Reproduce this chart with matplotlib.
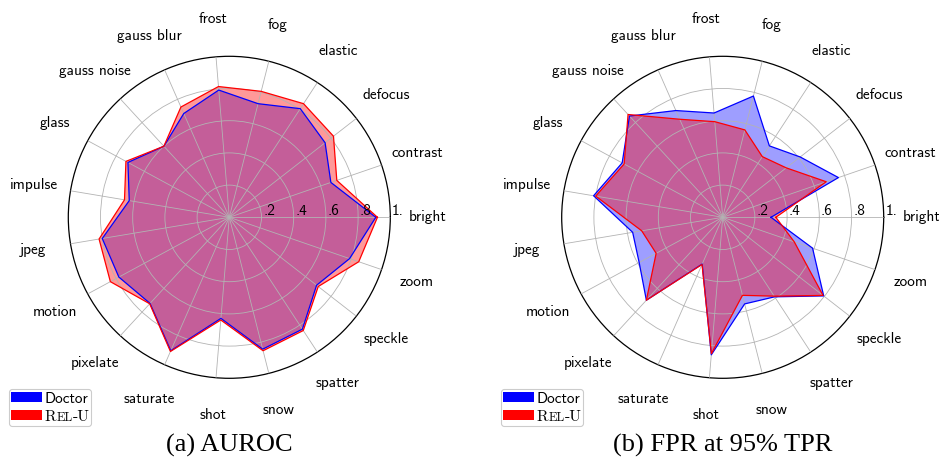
import matplotlib.pyplot as plt
import numpy as np
from matplotlib.patches import Patch
from matplotlib.text import Annotation

categories = ["bright", "contrast", "defocus", "elastic", "fog", "frost",
              "gauss blur", "gauss noise", "glass", "impulse", "jpeg", "motion",
              "pixelate", "saturate", "shot", "snow", "spatter", "speckle", "zoom"]

# (a) AUROC
doctor_auroc = [0.91, 0.667, 0.754, 0.806, 0.728, 0.793, 0.704, 0.60, 0.716, 0.63,
                0.80, 0.78, 0.727, 0.905, 0.63, 0.845, 0.83, 0.687, 0.79]
relu_auroc = [0.92, 0.706, 0.82, 0.843, 0.807, 0.815, 0.748, 0.60, 0.73, 0.66,
              0.82, 0.84, 0.73, 0.91, 0.64, 0.855, 0.84, 0.70, 0.85]

# (b) FPR at 95% TPR
doctor_fpr = [0.30, 0.76, 0.61, 0.53, 0.777, 0.65, 0.724, 0.855, 0.71, 0.813,
              0.567, 0.59, 0.70, 0.317, 0.857, 0.555, 0.59, 0.795, 0.59]
relu_fpr = [0.33, 0.68, 0.50, 0.45, 0.56, 0.596, 0.665, 0.868, 0.696, 0.80,
            0.51, 0.47, 0.70, 0.32, 0.85, 0.50, 0.585, 0.79, 0.47]

r_ticks = [0.2, 0.4, 0.6, 0.8, 1.0]
r_tick_labels = [".2", ".4", ".6", ".8", "1."]
captions = ["(a) AUROC", "(b) FPR at 95% TPR"]

W, H = 939, 469
fig = plt.figure(figsize=(W / 100, H / 100), dpi=100)

SANS = "cmss10"
FS = 11


def radar(ax, doctor, relu):
    n = len(categories)
    theta = np.linspace(0, 2 * np.pi, n, endpoint=False)
    tt = np.append(theta, theta[0])
    d = np.append(doctor, doctor[0])
    r = np.append(relu, relu[0])

    ax.fill(tt, d, color="blue", alpha=0.38, lw=0, zorder=1)
    ax.fill(tt, r, color="red", alpha=0.4, lw=0, zorder=1.1)
    ax.plot(tt, d, color="blue", lw=0.9, zorder=3)
    ax.plot(tt, r, color="red", lw=0.9, zorder=3.1)

    ax.set_ylim(0, 1)
    ax.set_xticks(theta)
    ax.set_xticklabels([])
    ax.set_yticks(r_ticks[:-1])
    ax.set_yticklabels([])
    ax.tick_params(length=0)
    ax.grid(True, color="#b3b3b3", lw=0.6)
    ax.set_axisbelow(False)
    ax.spines["polar"].set_color("black")
    ax.spines["polar"].set_linewidth(0.9)

    for t, lab in zip(theta, categories):
        ax.text(t, 1.233, lab, ha="center", va="center", fontsize=FS, family=SANS)
    for v, lab in zip(r_ticks, r_tick_labels):
        ax.annotate(lab, xy=(0, v), xytext=(1.2, 1.5), textcoords="offset points",
                    ha="left", va="baseline", fontsize=FS, family=SANS, zorder=4)


def legend(x_px):
    handles = [Patch(color="blue", lw=0), Patch(color="red", lw=0)]
    leg = fig.legend(handles, ["Doctor", "R"], loc="lower left",
                     bbox_to_anchor=(x_px / W, 43 / H), prop={"family": SANS, "size": FS},
                     handlelength=2.0, handleheight=0.65, handletextpad=0.2,
                     borderpad=0.15, labelspacing=0.28, borderaxespad=0,
                     fancybox=True, framealpha=1, edgecolor="#cccccc")
    leg.get_frame().set_linewidth(0.8)
    first = leg.get_texts()[1]
    first.set_fontfamily("cmr10")
    first.set_fontsize(11.3)
    # rest of small caps "Rel-U"
    prev = first
    for piece, size in [("EL", 9.0), ("-U", 11.3)]:
        a = Annotation(piece, xy=(1, 0), xycoords=prev, ha="left", va="bottom",
                       fontsize=size, family="cmr10", zorder=6)
        fig.add_artist(a)
        prev = a


for cx, doc, rel, cap in [(229.3, doctor_auroc, relu_auroc, captions[0]),
                          (722.7, doctor_fpr, relu_fpr, captions[1])]:
    ax = fig.add_axes([(cx - 161) / W, (H - 217.3 - 161) / H, 322 / W, 322 / H],
                      projection="polar")
    radar(ax, doc, rel)
    fig.text(cx / W, (H - 445) / H, cap, ha="center", va="center",
             fontsize=19, family="Liberation Serif")

legend(9)
legend(501)

fig.savefig("out.png", dpi=100)
